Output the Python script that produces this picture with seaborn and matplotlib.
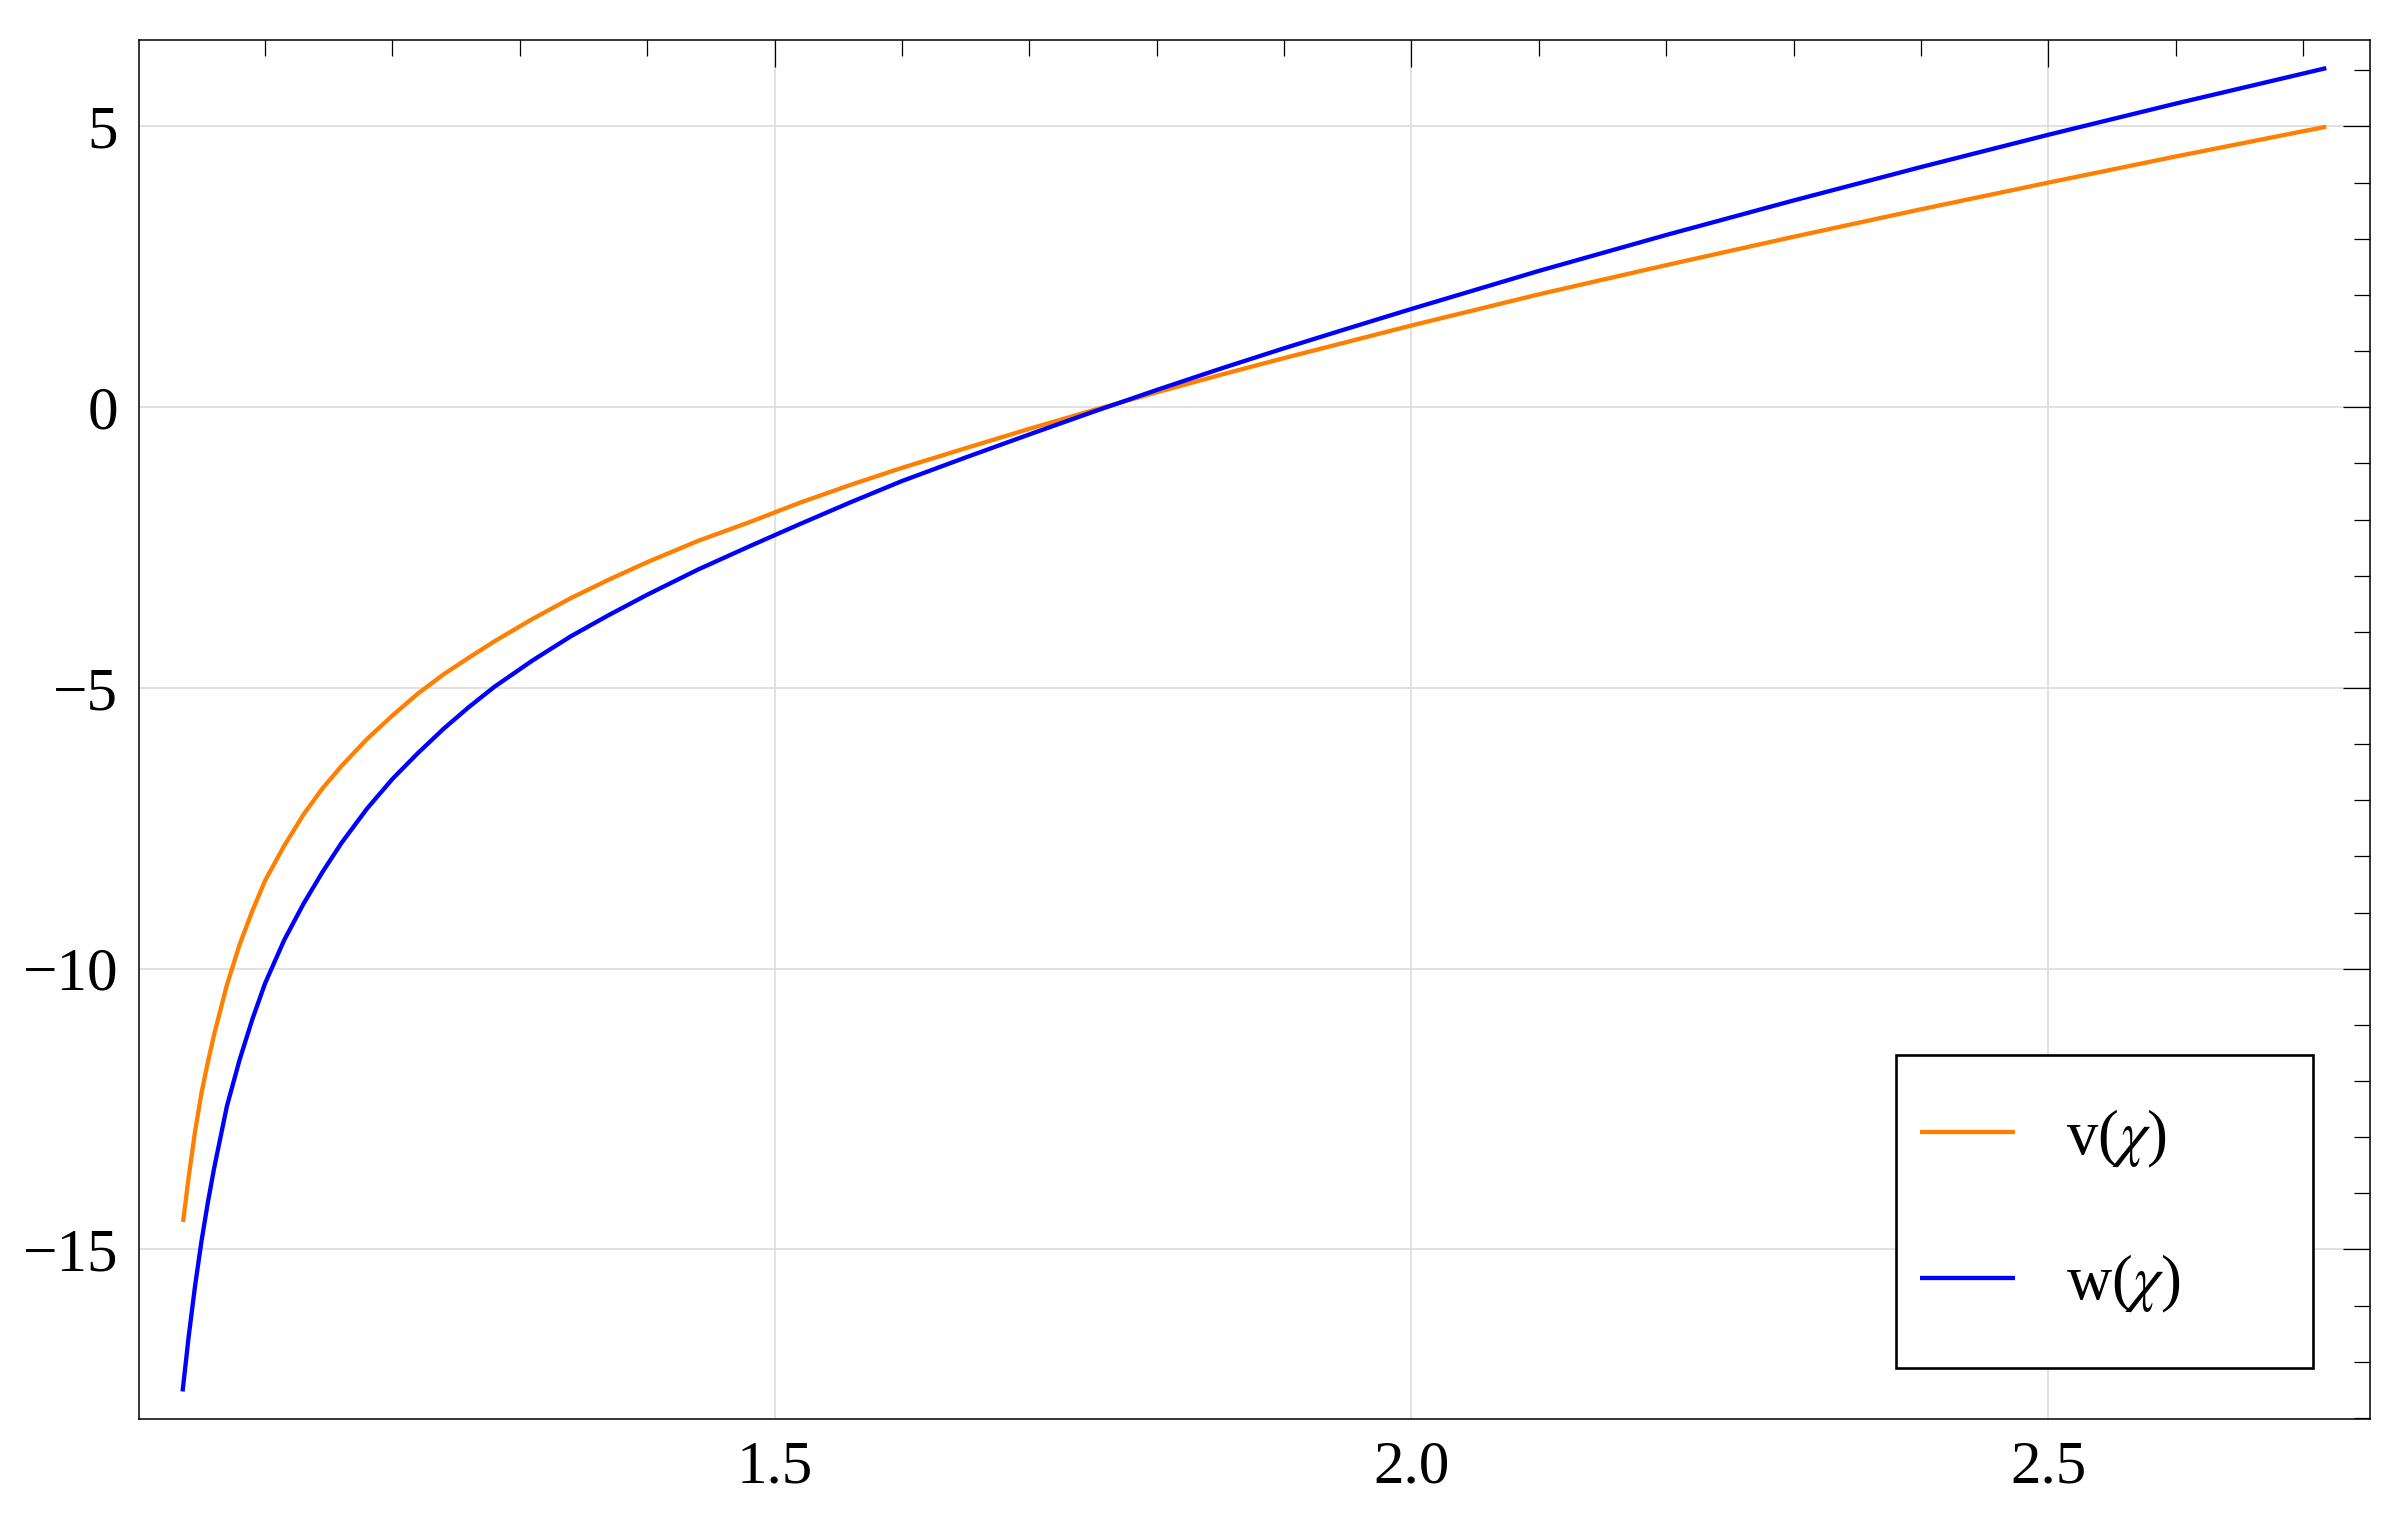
import matplotlib
matplotlib.use("Agg")
import matplotlib.pyplot as plt
import numpy as np
import pandas as pd
import seaborn as sns
from matplotlib.ticker import FixedLocator, MultipleLocator
from matplotlib.patches import Rectangle
from matplotlib.lines import Line2D

# ---- data ----
chi_v = [1.0356, 1.040, 1.045, 1.050, 1.055, 1.060, 1.070, 1.080, 1.090, 1.100,
         1.115, 1.130, 1.145, 1.160, 1.180, 1.200, 1.220, 1.240, 1.260, 1.280,
         1.310, 1.340, 1.370, 1.400, 1.440, 1.480, 1.520, 1.560, 1.600, 1.650,
         1.700, 1.750, 1.800, 1.850, 1.900, 1.950, 2.000, 2.100, 2.200, 2.300,
         2.400, 2.500, 2.600, 2.700, 2.7183]
v_vals = [-14.51, -13.71, -12.90, -12.22, -11.67, -11.17, -10.29, -9.57, -8.97, -8.43,
          -7.81, -7.26, -6.79, -6.39, -5.91, -5.49, -5.10, -4.76, -4.46, -4.17,
          -3.77, -3.40, -3.07, -2.76, -2.38, -2.05, -1.70, -1.38, -1.08, -0.73,
          -0.385, -0.055, 0.265, 0.575, 0.875, 1.165, 1.455, 2.01, 2.53, 3.035,
          3.525, 4.00, 4.465, 4.915, 4.995]

chi_w = [1.0352, 1.040, 1.045, 1.050, 1.055, 1.060, 1.070, 1.080, 1.090, 1.100,
         1.115, 1.130, 1.145, 1.160, 1.180, 1.200, 1.220, 1.240, 1.260, 1.280,
         1.310, 1.340, 1.370, 1.400, 1.440, 1.480, 1.520, 1.560, 1.600, 1.650,
         1.700, 1.750, 1.800, 1.850, 1.900, 1.950, 2.000, 2.100, 2.200, 2.300,
         2.400, 2.500, 2.600, 2.700, 2.7183]
w_vals = [-17.53, -16.55, -15.65, -14.86, -14.17, -13.55, -12.45, -11.62, -10.90, -10.26,
          -9.49, -8.85, -8.28, -7.76, -7.15, -6.62, -6.16, -5.73, -5.34, -4.98,
          -4.51, -4.08, -3.70, -3.34, -2.89, -2.48, -2.08, -1.69, -1.315, -0.895,
          -0.485, -0.083, 0.307, 0.685, 1.05, 1.402, 1.75, 2.427, 3.067, 3.682,
          4.277, 4.852, 5.407, 5.942, 6.04]

series_labels = ["v($\\chi$)", "w($\\chi$)"]
series_colors = ["#FF8000", "#0000FF"]

x_major_ticks = [1.5, 2.0, 2.5]
x_tick_labels = ["1.5", "2.0", "2.5"]
y_major_ticks = [-15, -10, -5, 0, 5]
y_tick_labels = ["\u221215", "\u221210", "\u22125", "0", "5"]

# ---- style ----
sns.set_theme(style="white")
plt.rcParams["font.family"] = ["Liberation Serif", "DejaVu Serif"]
plt.rcParams["mathtext.fontset"] = "stix"
plt.rcParams["text.color"] = "black"
plt.rcParams["xtick.labelcolor"] = "black"
plt.rcParams["ytick.labelcolor"] = "black"
plt.rcParams["xtick.color"] = "black"
plt.rcParams["ytick.color"] = "black"

df = pd.concat([
    pd.DataFrame({"chi": chi_v, "value": v_vals, "series": series_labels[0]}),
    pd.DataFrame({"chi": chi_w, "value": w_vals, "series": series_labels[1]}),
], ignore_index=True)

fig = plt.figure(figsize=(24.05, 15.27), dpi=100)
ax = fig.add_axes([0.0578, 0.07073, 0.92765, 0.90307])

sns.lineplot(data=df, x="chi", y="value", hue="series",
             palette=dict(zip(series_labels, series_colors)),
             estimator=None, sort=False, linewidth=3.1, legend=False, ax=ax,
             solid_capstyle="butt", solid_joinstyle="round")

ax.set_xlim(1.001, 2.7526)
ax.set_ylim(-18.02, 6.54)
ax.set_xlabel("")
ax.set_ylabel("")

ax.xaxis.set_major_locator(FixedLocator(x_major_ticks))
ax.set_xticklabels(x_tick_labels)
ax.xaxis.set_minor_locator(MultipleLocator(0.1))
ax.yaxis.set_major_locator(FixedLocator(y_major_ticks))
ax.set_yticklabels(y_tick_labels)
ax.yaxis.set_minor_locator(MultipleLocator(1))

ax.tick_params(which="both", direction="in", top=True, right=True,
               labeltop=False, labelright=False, color="black",
               labelcolor="black", labelsize=44)
ax.tick_params(which="major", length=19.5, width=0.9)
ax.tick_params(which="minor", length=11.5, width=0.9)
ax.tick_params(axis="x", which="major", pad=15)
ax.tick_params(axis="y", which="major", pad=15)

ax.grid(True, which="major", color="#dcdcdc", linewidth=1.2)
ax.set_axisbelow(True)
for s in ax.spines.values():
    s.set_color("black")
    s.set_linewidth(1.1)
    s.set_visible(True)

# legend frame (Mathematica-style wide box)
frame = Rectangle((0.7875, 0.0370), 0.9745 - 0.7875, 0.2640 - 0.0370,
                  transform=ax.transAxes, facecolor="white", edgecolor="black",
                  linewidth=1.9, zorder=5)
ax.add_patch(frame)

handles = [Line2D([], [], color=c, linewidth=3.1, solid_capstyle="butt")
           for c in series_colors]
leg = ax.legend(handles, series_labels, loc="center left",
                bbox_to_anchor=(0.7983, 0.1505), frameon=False,
                fontsize=45, handlelength=1.52, handletextpad=0.82,
                labelspacing=1.33, borderpad=0, borderaxespad=0)
for t in leg.get_texts():
    t.set_color("black")
leg.set_zorder(6)

fig.savefig("out.png", dpi=100, facecolor="white")
